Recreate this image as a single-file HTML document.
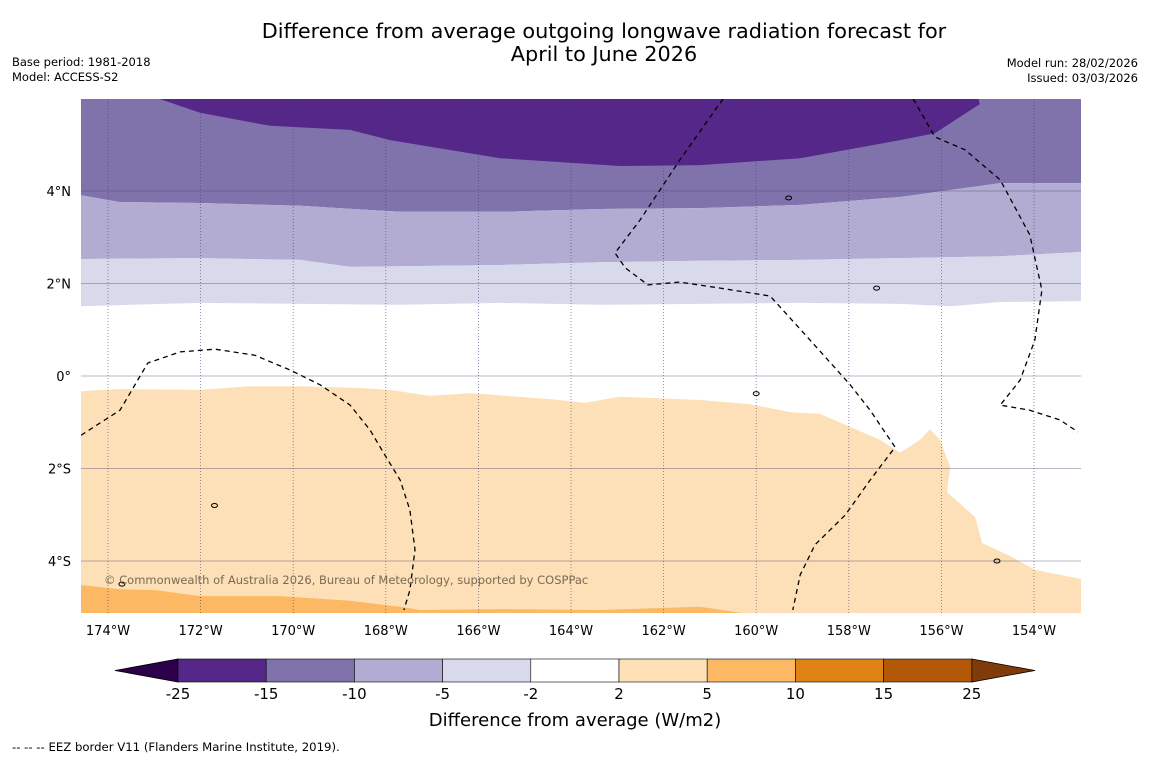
<!DOCTYPE html>
<html><head><meta charset="utf-8"><style>
body{margin:0;background:#fff;width:1150px;height:758px;overflow:hidden;font-family:"DejaVu Sans","Liberation Sans",sans-serif}
svg{display:block}
</style></head><body>
<svg id="c" width="1150" height="758" xmlns="http://www.w3.org/2000/svg">
<text x="604" y="38" font-size="20.8" text-anchor="middle">Difference from average outgoing longwave radiation forecast for</text>
<text x="604" y="61" font-size="20.8" text-anchor="middle">April to June 2026</text>
<text x="12" y="66" font-size="11.5">Base period: 1981-2018</text>
<text x="12" y="81" font-size="11.5">Model: ACCESS-S2</text>
<text x="1138" y="67" font-size="11.5" text-anchor="end">Model run: 28/02/2026</text>
<text x="1138" y="82" font-size="11.5" text-anchor="end">Issued: 03/03/2026</text>
<defs><clipPath id="mapclip"><rect x="81" y="99" width="1000" height="514"/></clipPath></defs>
<g id="map" clip-path="url(#mapclip)"></g>
<g id="axes"></g>
<g id="cbar"></g>
<text x="575" y="726" font-size="18" text-anchor="middle">Difference from average (W/m2)</text>
<text x="12" y="751" font-size="11.7">--  --  -- EEZ border V11 (Flanders Marine Institute, 2019).</text>
</svg>
<script>
// Contour boundaries as [lon, lat] pairs
const bandTop15 = [[-172.88,5.99],[-172.01,5.69],[-170.50,5.41],[-168.77,5.32],[-167.91,5.10],[-165.53,4.71],[-162.94,4.54],[-161.21,4.56],[-159.05,4.71],[-156.89,5.10],[-156.14,5.25],[-155.17,5.88],[-155.2,6.0]];
const bound10 = [[-174.58,3.91],[-173.74,3.76],[-172.01,3.74],[-169.85,3.68],[-167.69,3.55],[-165.53,3.55],[-163.37,3.61],[-161.21,3.63],[-159.05,3.70],[-156.89,3.87],[-154.73,4.17],[-152.98,4.17]];
const bound5 = [[-174.58,2.53],[-172.01,2.55],[-169.85,2.51],[-168.77,2.36],[-165.53,2.40],[-163.37,2.46],[-161.21,2.49],[-159.05,2.51],[-156.89,2.55],[-154.73,2.59],[-152.98,2.68]];
const bound2n = [[-174.58,1.51],[-172.01,1.58],[-167.69,1.54],[-165.53,1.58],[-163.37,1.54],[-159.05,1.58],[-156.89,1.56],[-155.81,1.51],[-154.73,1.60],[-152.98,1.62]];
const bound2p = [[-174.58,-0.33],[-173.74,-0.28],[-172.01,-0.30],[-170.93,-0.22],[-169.85,-0.22],[-168.56,-0.26],[-167.91,-0.30],[-167.05,-0.43],[-166.18,-0.37],[-164.45,-0.50],[-163.70,-0.58],[-162.94,-0.45],[-161.21,-0.52],[-160.13,-0.61],[-159.27,-0.78],[-158.62,-0.82],[-157.33,-1.38],[-156.89,-1.66],[-156.46,-1.38],[-156.25,-1.15],[-156.03,-1.38],[-155.81,-1.97],[-155.88,-2.51],[-155.27,-3.05],[-155.12,-3.61],[-154.52,-3.89],[-153.98,-4.19],[-152.98,-4.39]];
const bound5p = [[-174.58,-4.52],[-173.74,-4.61],[-172.98,-4.63],[-172.01,-4.76],[-170.28,-4.76],[-168.77,-4.86],[-167.69,-4.99],[-167.26,-5.06],[-165.53,-5.04],[-163.37,-5.06],[-161.21,-4.99],[-160.13,-5.15]];
const eezA = [[-174.58,-1.28],[-173.74,-0.74],[-173.14,0.28],[-172.44,0.52],[-171.69,0.58],[-170.83,0.45],[-170.07,0.13],[-169.42,-0.19],[-168.77,-0.63],[-168.34,-1.17],[-168.02,-1.71],[-167.69,-2.25],[-167.48,-2.90],[-167.37,-3.76],[-167.48,-4.63],[-167.61,-5.06]];
const eezB = [[-160.72,5.99],[-161.65,4.67],[-162.51,3.37],[-163.05,2.66],[-162.83,2.34],[-162.34,1.97],[-161.65,2.03],[-160.78,1.90],[-159.70,1.73],[-158.84,0.78],[-157.97,-0.19],[-157.54,-0.74],[-157.00,-1.54],[-157.54,-2.25],[-158.08,-3.01],[-158.73,-3.65],[-159.05,-4.30],[-159.21,-5.06]];
const eezC = [[-156.61,5.99],[-156.14,5.17],[-155.49,4.89],[-154.73,4.24],[-154.09,3.05],[-153.83,1.86],[-153.98,0.78],[-154.30,-0.09],[-154.73,-0.63],[-154.09,-0.74],[-153.44,-0.95],[-153.05,-1.21]];
const lonTicks = [-174,-172,-170,-168,-166,-164,-162,-160,-158,-156,-154];
const latTicks = [4,2,0,-2,-4];
const cbarLabels = ["-25","-15","-10","-5","-2","2","5","10","15","25"];
const cbarColors = ["#542788","#8073ac","#b2abd2","#d8daeb","#ffffff","#fee0b6","#fdb863","#e08214","#b35806"];

const NS="http://www.w3.org/2000/svg";
const X=lon=>108+(lon+174)*46.3;
const Y=lat=>191+(4-lat)*46.25;
const L=-175, R=-152, T=6.5, B=-5.5;
function mk(parent,tag,attrs){const e=document.createElementNS(NS,tag);for(const k in attrs)e.setAttribute(k,attrs[k]);parent.appendChild(e);return e;}
const pts=a=>a.map(p=>X(p[0]).toFixed(1)+","+Y(p[1]).toFixed(1)).join(" ");
const map=document.getElementById('map');
function band(upper,lower,color,name){
  const up = upper? upper : [[L,T],[R,T]];
  const lo = lower? lower : [[L,B],[R,B]];
  const a=[[L,up[0][1]],...up,[R,up[up.length-1][1]],[R,lo[lo.length-1][1]],...lo.slice().reverse(),[L,lo[0][1]]];
  const p=mk(map,'polygon',{points:pts(a),fill:color,stroke:'none'});
  
  
}
mk(map,'rect',{x:81,y:99,width:1000,height:514,fill:'#fff'});
band(null,bound10,"#8073ac","band-minus15-to-minus10");
{const a=[[bandTop15[0][0],T],...bandTop15,[bandTop15[bandTop15.length-1][0],T]];
 const p=mk(map,'polygon',{points:pts(a),fill:"#542788"});
 
 }
band(bound10,bound5,"#b2abd2","band-minus10-to-minus5");
band(bound5,bound2n,"#d8daeb","band-minus5-to-minus2");
band(bound2p,null,"#fde0b7","band-2-to-5");
band(bound5p,null,"#fdb863","band-5-to-10");
lonTicks.forEach(lon=>{const l=mk(map,'line',{x1:X(lon),x2:X(lon),y1:99,y2:613,stroke:'#3a3a7a','stroke-width':0.8,'stroke-dasharray':'1,2',opacity:0.7});
 
 });
latTicks.forEach(lat=>{const l=mk(map,'line',{x1:81,x2:1081,y1:Y(lat),y2:Y(lat),stroke:'#444466','stroke-width':0.7,opacity:0.5});
 
 });
[eezA,eezB,eezC].forEach(e=>{const p=mk(map,'polyline',{points:pts(e),fill:'none',stroke:'#000','stroke-width':1.3,'stroke-dasharray':'5,4'});
 
 });
[[-173.7,-4.5],[-171.7,-2.8],[-160.0,-0.38],[-159.3,3.85],[-157.4,1.9],[-154.8,-4.0]].forEach(c=>{const e=mk(map,'ellipse',{cx:X(c[0]),cy:Y(c[1]),rx:3,ry:2,fill:'none',stroke:'#000','stroke-width':1});
 
 });
{const t=mk(map,'text',{x:104,y:584,'font-size':11.5,fill:'#7a6a55'});t.textContent="© Commonwealth of Australia 2026, Bureau of Meteorology, supported by COSPPac";
 
 }
const ax=document.getElementById('axes');
lonTicks.forEach(lon=>{const t=mk(ax,'text',{x:X(lon),y:635,'font-size':13,'text-anchor':'middle'});t.textContent=Math.abs(lon)+"°W";
 
 });
latTicks.forEach(lat=>{const t=mk(ax,'text',{x:71,y:Y(lat)+5,'font-size':13,'text-anchor':'end'});t.textContent=lat===0?"0°":Math.abs(lat)+"°"+(lat>0?"N":"S");
 
 });
const cb=document.getElementById('cbar');
const x0=178,w=88.2,y0=659,h=23;
{const p=mk(cb,'polygon',{points:`115,670.5 ${x0},${y0} ${x0},${y0+h}`,fill:'#2d004b',stroke:'#000','stroke-width':0.8});
 
 }
const xe=x0+w*cbarColors.length;
{const p=mk(cb,'polygon',{points:`${xe},${y0} 1035,670.5 ${xe},${y0+h}`,fill:'#7f3b08',stroke:'#000','stroke-width':0.8});
 
 }
cbarColors.forEach((c,i)=>{const r=mk(cb,'rect',{x:x0+i*w,y:y0,width:w,height:h,fill:c,stroke:'#000','stroke-width':0.6});
 
 });
cbarLabels.forEach((s,i)=>{const t=mk(cb,'text',{x:x0+i*w,y:699,'font-size':15,'text-anchor':'middle'});t.textContent=s;
 
 });
</script>
</body></html>
